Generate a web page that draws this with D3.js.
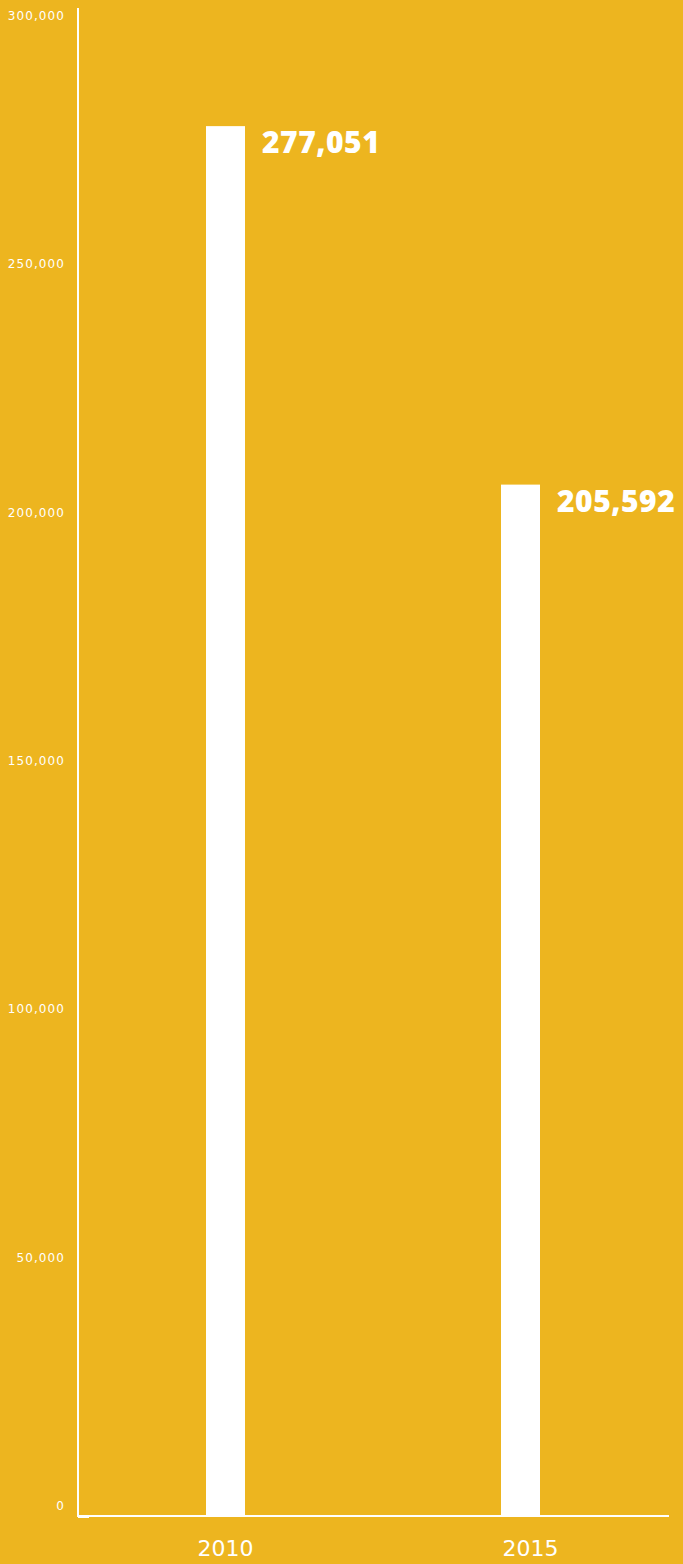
<!DOCTYPE html>
<html>
<head>
<meta charset="utf-8">
<script src="https://cdn.jsdelivr.net/npm/d3@7"></script>
<style>
  html, body { margin: 0; padding: 0; background: #EDB51F; }
  svg { display: block; }
</style>
</head>
<body>
<svg id="chart"></svg>
<script>
// data
var years = ["2010", "2015"];
var counts = [277051, 205592];
var tickValues = [0, 50000, 100000, 150000, 200000, 250000, 300000];

const width = 683,
    height = 1564,
    axisX = 78,       // y axis line
    baseY = 1516,     // x axis line
    axisRight = 668,
    barWidth = 39,
    bg = "#EDB51F";

var svg = d3.select("#chart")
    .attr("width", width)
    .attr("height", height);

svg.append("rect")
    .attr("width", width)
    .attr("height", height)
    .attr("fill", bg);

var y = d3.scaleLinear()
    .domain([0, 300000])
    .range([baseY, 11]);

// tick labels sit on their own slightly tighter scale in the original
var yLabel = d3.scaleLinear()
    .domain([0, 300000])
    .range([1510, 20]);

var x = d3.scalePoint()
    .domain(years)
    .range([axisX, axisRight])
    .padding(0.5);

var xLabel = d3.scalePoint()
    .domain(years)
    .range([73, width])
    .padding(0.5);

var fmt = d3.format(",");

// y tick labels
svg.append("g")
    .selectAll("text")
    .data(tickValues)
    .enter().append("text")
    .attr("x", 65)
    .attr("y", d => yLabel(d))
    .attr("text-anchor", "end")
    .attr("fill", "#fff")
    .style("font-family", "'DejaVu Sans', sans-serif")
    .style("font-size", "12px")
    .style("letter-spacing", "1.1px")
    .text(d => fmt(d));

// bars
svg.append("g")
    .selectAll("rect")
    .data(counts)
    .enter().append("rect")
    .attr("x", (d, i) => x(years[i]) - barWidth / 2)
    .attr("y", d => y(d))
    .attr("width", barWidth)
    .attr("height", d => baseY - y(d))
    .attr("fill", "#fff");

// value labels
svg.append("g")
    .selectAll("text")
    .data(counts)
    .enter().append("text")
    .attr("x", (d, i) => x(years[i]) + barWidth / 2 + 17)
    .attr("y", d => y(d) + 27)
    .attr("fill", "#fff")
    .style("font-family", "'Open Sans', sans-serif")
    .style("font-weight", 800)
    .style("font-size", "30px")
    .style("letter-spacing", "0.5px")
    .text(d => fmt(d));

// axes lines
svg.append("line")
    .attr("x1", axisX).attr("x2", axisX)
    .attr("y1", 8).attr("y2", baseY + 1)
    .attr("stroke", "#fff")
    .attr("stroke-width", 2);

svg.append("line")
    .attr("x1", axisX - 1).attr("x2", axisRight + 1)
    .attr("y1", baseY).attr("y2", baseY)
    .attr("stroke", "#fff")
    .attr("stroke-width", 2);

svg.append("line") // little stub at the origin
    .attr("x1", axisX).attr("x2", axisX + 11)
    .attr("y1", baseY + 0.5).attr("y2", baseY + 0.5)
    .attr("stroke", "#fff")
    .attr("stroke-width", 3);

// x labels
svg.append("g")
    .selectAll("text")
    .data(years)
    .enter().append("text")
    .attr("x", d => xLabel(d))
    .attr("y", 1556)
    .attr("text-anchor", "middle")
    .attr("fill", "#fff")
    .style("font-family", "'DejaVu Sans', sans-serif")
    .style("font-size", "22px")
    .text(d => d);
</script>
</body>
</html>
